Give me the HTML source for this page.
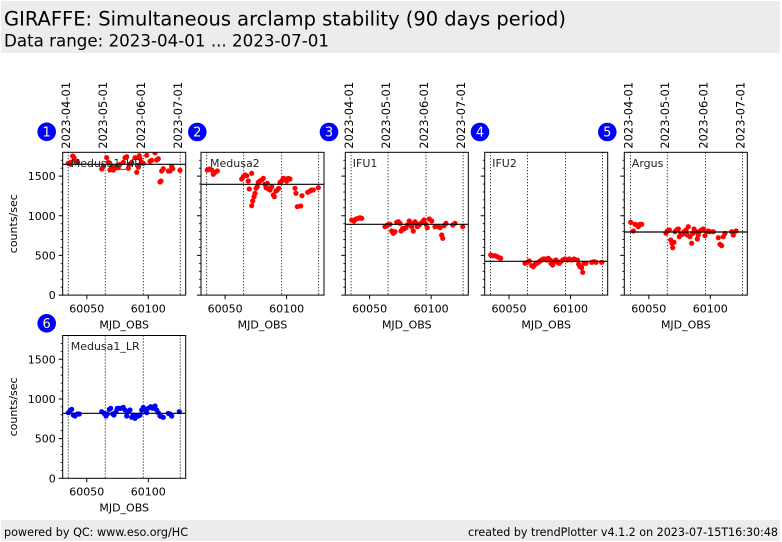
<!DOCTYPE html>
<html>
<head>
<meta charset="utf-8">
<style>
html,body{margin:0;padding:0;background:#fff;}
svg{display:block;}
text{font-family:"DejaVu Sans","Liberation Sans",sans-serif;}
</style>
</head>
<body>
<svg width="782" height="542" viewBox="0 0 782 542" xmlns="http://www.w3.org/2000/svg">
<defs>
<clipPath id="c"><rect x="0" y="0" width="123" height="142.8"/></clipPath>
</defs>
<rect x="0" y="0" width="782" height="542" fill="#fff"/>
<!-- header -->
<rect x="1" y="1" width="779" height="52" fill="#ececec"/>
<text x="4" y="25.5" font-size="19.4" textLength="562" lengthAdjust="spacingAndGlyphs" fill="#000">GIRAFFE: Simultaneous arclamp stability (90 days period)</text>
<text x="4" y="46.5" font-size="16.7" textLength="325" lengthAdjust="spacingAndGlyphs" fill="#000">Data range: 2023-04-01 ... 2023-07-01</text>
<!-- footer -->
<rect x="1" y="520" width="779" height="21" fill="#ececec"/>
<text x="4" y="536" font-size="11.5" textLength="184" lengthAdjust="spacingAndGlyphs" style="font-family:'DejaVu Sans Condensed','DejaVu Sans',sans-serif">powered by QC: www.eso.org/HC</text>
<text x="468" y="536" font-size="11.5" textLength="310" lengthAdjust="spacingAndGlyphs" style="font-family:'DejaVu Sans Condensed','DejaVu Sans',sans-serif">created by trendPlotter v4.1.2 on 2023-07-15T16:30:48</text>

<!-- y labels -->
<text transform="translate(17,223.7) rotate(-90)" font-size="11" text-anchor="middle">counts/sec</text>
<text transform="translate(17,406.9) rotate(-90)" font-size="11" text-anchor="middle">counts/sec</text>

<!-- circles -->
<g font-size="13" text-anchor="middle" fill="#ffffb0">
<circle cx="46.7" cy="131.8" r="9.3" fill="#0000ff"/><text x="46.7" y="136.5">1</text>
<circle cx="197.3" cy="132" r="9.3" fill="#0000ff"/><text x="197.3" y="136.7">2</text>
<circle cx="329" cy="132" r="9.3" fill="#0000ff"/><text x="329" y="136.7">3</text>
<circle cx="480" cy="132" r="9.3" fill="#0000ff"/><text x="480" y="136.7">4</text>
<circle cx="607.3" cy="132" r="9.3" fill="#0000ff"/><text x="607.3" y="136.7">5</text>
<circle cx="46.7" cy="323.3" r="9.3" fill="#0000ff"/><text x="46.7" y="328">6</text>
</g>

<!-- PANEL 1 -->
<g transform="translate(62.7,152.3)">
<g clip-path="url(#c)">
<path d="M5.6,0V142.8M42.6,0V142.8M80.6,0V142.8M117.6,0V142.8" stroke="#000" stroke-width="1" stroke-dasharray="1,2" fill="none"/>
<g fill="#ff0000">
<circle cx="5.6" cy="11" r="2.6"/><circle cx="8" cy="12" r="2.6"/><circle cx="8" cy="10" r="2.6"/><circle cx="10" cy="3.7" r="2.6"/><circle cx="11.3" cy="5.4" r="2.6"/><circle cx="13.3" cy="8.7" r="2.6"/><circle cx="15" cy="10" r="2.6"/><circle cx="39" cy="16.7" r="2.6"/><circle cx="40.6" cy="14.4" r="2.6"/><circle cx="44" cy="5.4" r="2.6"/><circle cx="45.6" cy="10" r="2.6"/><circle cx="47.3" cy="17.7" r="2.6"/><circle cx="49" cy="14.4" r="2.6"/><circle cx="50.6" cy="17.7" r="2.6"/><circle cx="52.3" cy="16" r="2.6"/><circle cx="54" cy="13.4" r="2.6"/><circle cx="55.6" cy="15.4" r="2.6"/><circle cx="57.3" cy="12" r="2.6"/><circle cx="60.6" cy="10" r="2.6"/><circle cx="62.3" cy="5.4" r="2.6"/><circle cx="64" cy="4.4" r="2.6"/><circle cx="65.6" cy="16" r="2.6"/><circle cx="67.3" cy="12" r="2.6"/><circle cx="69" cy="10" r="2.6"/><circle cx="72.3" cy="5.4" r="2.6"/><circle cx="74" cy="20" r="2.6"/><circle cx="75.6" cy="15" r="2.6"/><circle cx="76.6" cy="3.4" r="2.6"/><circle cx="77.3" cy="6" r="2.6"/><circle cx="79" cy="10" r="2.6"/><circle cx="80.6" cy="11" r="2.6"/><circle cx="84" cy="3" r="2.6"/><circle cx="87.3" cy="9" r="2.6"/><circle cx="89" cy="8" r="2.6"/><circle cx="92.3" cy="0.5" r="2.6"/><circle cx="94" cy="7.7" r="2.6"/><circle cx="95.6" cy="6.4" r="2.6"/><circle cx="97.3" cy="29.7" r="2.6"/><circle cx="98.3" cy="28.7" r="2.6"/><circle cx="99" cy="18.7" r="2.6"/><circle cx="100.6" cy="16.4" r="2.6"/><circle cx="105.6" cy="18.7" r="2.6"/><circle cx="107.3" cy="18.7" r="2.6"/><circle cx="109" cy="14.4" r="2.6"/><circle cx="110" cy="16.4" r="2.6"/><circle cx="117.3" cy="18" r="2.6"/>
</g>
<line x1="0" y1="12" x2="123" y2="12" stroke="#000" stroke-width="1.2"/>
</g>
<rect x="0" y="0" width="123" height="142.8" fill="none" stroke="#000" stroke-width="1"/>
<path d="M0,142.8h-4M0,103.13h-4M0,63.47h-4M0,23.8h-4" stroke="#000" stroke-width="1"/>
<path d="M0,134.87h-2M0,126.93h-2M0,119h-2M0,111.07h-2M0,95.2h-2M0,87.27h-2M0,79.33h-2M0,71.4h-2M0,55.53h-2M0,47.6h-2M0,39.67h-2M0,31.73h-2M0,15.87h-2M0,7.93h-2" stroke="#000" stroke-width="0.8"/>
<path d="M24.1,142.8v4M85.6,142.8v4" stroke="#000" stroke-width="1"/>
<g font-size="11" fill="#000">
<text x="-7" y="146.8" text-anchor="end">0</text>
<text x="-7" y="107.1" text-anchor="end">500</text>
<text x="-7" y="67.5" text-anchor="end">1000</text>
<text x="-7" y="27.8" text-anchor="end">1500</text>
<text x="24.1" y="160" text-anchor="middle">60050</text>
<text x="85.6" y="160" text-anchor="middle">60100</text>
<text x="61.5" y="176" text-anchor="middle">MJD_OBS</text>
<text x="8" y="14.5" fill="#222">Medusa1_HR</text>
</g>
<g font-size="11.5" fill="#000">
<text transform="translate(7.4,-3.6) rotate(-90)">2023-04-01</text>
<text transform="translate(44.4,-3.6) rotate(-90)">2023-05-01</text>
<text transform="translate(82.4,-3.6) rotate(-90)">2023-06-01</text>
<text transform="translate(119.4,-3.6) rotate(-90)">2023-07-01</text>
</g>
</g>

<!-- PANEL 2 -->
<g transform="translate(201,152.3)">
<g clip-path="url(#c)">
<path d="M5.6,0V142.8M42.6,0V142.8M80.6,0V142.8M117.6,0V142.8" stroke="#000" stroke-width="1" stroke-dasharray="1,2" fill="none"/>
<g fill="#ff0000">
<circle cx="6.3" cy="17.7" r="2.6"/><circle cx="8.3" cy="16.7" r="2.6"/><circle cx="10.7" cy="17.7" r="2.6"/><circle cx="12.3" cy="22" r="2.6"/><circle cx="14" cy="20" r="2.6"/><circle cx="16.3" cy="18.7" r="2.6"/><circle cx="40.7" cy="26.7" r="2.6"/><circle cx="42.3" cy="24.4" r="2.6"/><circle cx="44" cy="22.7" r="2.6"/><circle cx="45.7" cy="23.4" r="2.6"/><circle cx="47.3" cy="28.7" r="2.6"/><circle cx="48.3" cy="36.7" r="2.6"/><circle cx="50.7" cy="21" r="2.6"/><circle cx="50.7" cy="53.4" r="2.6"/><circle cx="51.7" cy="48.7" r="2.6"/><circle cx="53" cy="44.4" r="2.6"/><circle cx="54" cy="41" r="2.6"/><circle cx="55" cy="36" r="2.6"/><circle cx="56.3" cy="34.4" r="2.6"/><circle cx="57.3" cy="30" r="2.6"/><circle cx="59" cy="28.7" r="2.6"/><circle cx="60.7" cy="27.7" r="2.6"/><circle cx="62.3" cy="26" r="2.6"/><circle cx="64" cy="32" r="2.6"/><circle cx="65" cy="35.4" r="2.6"/><circle cx="66.3" cy="31" r="2.6"/><circle cx="67.3" cy="36.7" r="2.6"/><circle cx="69" cy="37.7" r="2.6"/><circle cx="70.7" cy="34.4" r="2.6"/><circle cx="72.3" cy="42.7" r="2.6"/><circle cx="73.3" cy="44.4" r="2.6"/><circle cx="75" cy="38.7" r="2.6"/><circle cx="76.3" cy="37.7" r="2.6"/><circle cx="77.7" cy="36" r="2.6"/><circle cx="79" cy="30" r="2.6"/><circle cx="80.7" cy="28.7" r="2.6"/><circle cx="82.3" cy="26" r="2.6"/><circle cx="84" cy="26.7" r="2.6"/><circle cx="85.7" cy="28.7" r="2.6"/><circle cx="87.3" cy="26" r="2.6"/><circle cx="89" cy="26.7" r="2.6"/><circle cx="94" cy="36" r="2.6"/><circle cx="95" cy="41" r="2.6"/><circle cx="96.3" cy="54.4" r="2.6"/><circle cx="99.7" cy="53.7" r="2.6"/><circle cx="101" cy="43.4" r="2.6"/><circle cx="106.7" cy="40" r="2.6"/><circle cx="109" cy="38.7" r="2.6"/><circle cx="110.7" cy="37.7" r="2.6"/><circle cx="112.3" cy="37.7" r="2.6"/><circle cx="117.3" cy="35.4" r="2.6"/>
</g>
<line x1="0" y1="32" x2="123" y2="32" stroke="#000" stroke-width="1.2"/>
</g>
<rect x="0" y="0" width="123" height="142.8" fill="none" stroke="#000" stroke-width="1"/>
<path d="M0,142.8h-4M0,103.13h-4M0,63.47h-4M0,23.8h-4" stroke="#000" stroke-width="1"/>
<path d="M0,134.87h-2M0,126.93h-2M0,119h-2M0,111.07h-2M0,95.2h-2M0,87.27h-2M0,79.33h-2M0,71.4h-2M0,55.53h-2M0,47.6h-2M0,39.67h-2M0,31.73h-2M0,15.87h-2M0,7.93h-2" stroke="#000" stroke-width="0.8"/>
<path d="M24.1,142.8v4M85.6,142.8v4" stroke="#000" stroke-width="1"/>
<g font-size="11" fill="#000">
<text x="24.1" y="160" text-anchor="middle">60050</text>
<text x="85.6" y="160" text-anchor="middle">60100</text>
<text x="61.5" y="176" text-anchor="middle">MJD_OBS</text>
<text x="9" y="14.5" fill="#222">Medusa2</text>
</g>
</g>

<!-- PANEL 3 -->
<g transform="translate(345.3,152.3)">
<g clip-path="url(#c)">
<path d="M5.8,0V142.8M42.8,0V142.8M80.8,0V142.8M117.8,0V142.8" stroke="#000" stroke-width="1" stroke-dasharray="1,2" fill="none"/>
<g fill="#ff0000">
<circle cx="6.4" cy="67.7" r="2.6"/><circle cx="8.7" cy="68.7" r="2.6"/><circle cx="10.7" cy="66.7" r="2.6"/><circle cx="13" cy="66" r="2.6"/><circle cx="14.7" cy="65.4" r="2.6"/><circle cx="16.4" cy="66" r="2.6"/><circle cx="39.7" cy="74.4" r="2.6"/><circle cx="42" cy="72.7" r="2.6"/><circle cx="44.7" cy="72" r="2.6"/><circle cx="46.4" cy="78.7" r="2.6"/><circle cx="48" cy="81" r="2.6"/><circle cx="49.7" cy="79.4" r="2.6"/><circle cx="51.4" cy="70" r="2.6"/><circle cx="53" cy="69.4" r="2.6"/><circle cx="54.7" cy="71" r="2.6"/><circle cx="55.7" cy="78.7" r="2.6"/><circle cx="57.4" cy="76" r="2.6"/><circle cx="58.7" cy="76.7" r="2.6"/><circle cx="60.7" cy="75.4" r="2.6"/><circle cx="62" cy="72.7" r="2.6"/><circle cx="64" cy="68.7" r="2.6"/><circle cx="65.4" cy="71" r="2.6"/><circle cx="66.4" cy="74.4" r="2.6"/><circle cx="68" cy="78.7" r="2.6"/><circle cx="69.7" cy="69.4" r="2.6"/><circle cx="70.7" cy="71" r="2.6"/><circle cx="72" cy="74.4" r="2.6"/><circle cx="74" cy="72.7" r="2.6"/><circle cx="75.4" cy="71" r="2.6"/><circle cx="77.4" cy="69.4" r="2.6"/><circle cx="78.7" cy="67.7" r="2.6"/><circle cx="80.7" cy="72" r="2.6"/><circle cx="82" cy="75.4" r="2.6"/><circle cx="84" cy="66.7" r="2.6"/><circle cx="86.4" cy="68.7" r="2.6"/><circle cx="89.7" cy="74.4" r="2.6"/><circle cx="93" cy="74.4" r="2.6"/><circle cx="94.7" cy="75.4" r="2.6"/><circle cx="96.4" cy="82.7" r="2.6"/><circle cx="97.4" cy="86" r="2.6"/><circle cx="98.7" cy="73.4" r="2.6"/><circle cx="100.7" cy="71" r="2.6"/><circle cx="107.4" cy="72.7" r="2.6"/><circle cx="109.7" cy="71" r="2.6"/><circle cx="117.4" cy="74.4" r="2.6"/>
</g>
<line x1="0" y1="72" x2="123" y2="72" stroke="#000" stroke-width="1.2"/>
</g>
<rect x="0" y="0" width="123" height="142.8" fill="none" stroke="#000" stroke-width="1"/>
<path d="M0,142.8h-4M0,103.13h-4M0,63.47h-4M0,23.8h-4" stroke="#000" stroke-width="1"/>
<path d="M0,134.87h-2M0,126.93h-2M0,119h-2M0,111.07h-2M0,95.2h-2M0,87.27h-2M0,79.33h-2M0,71.4h-2M0,55.53h-2M0,47.6h-2M0,39.67h-2M0,31.73h-2M0,15.87h-2M0,7.93h-2" stroke="#000" stroke-width="0.8"/>
<path d="M24.3,142.8v4M85.8,142.8v4" stroke="#000" stroke-width="1"/>
<g font-size="11" fill="#000">
<text x="24.3" y="160" text-anchor="middle">60050</text>
<text x="85.8" y="160" text-anchor="middle">60100</text>
<text x="61.5" y="176" text-anchor="middle">MJD_OBS</text>
<text x="7.5" y="14.5" fill="#222">IFU1</text>
</g>
<g font-size="11.5" fill="#000">
<text transform="translate(7.6,-3.6) rotate(-90)">2023-04-01</text>
<text transform="translate(44.6,-3.6) rotate(-90)">2023-05-01</text>
<text transform="translate(82.6,-3.6) rotate(-90)">2023-06-01</text>
<text transform="translate(119.6,-3.6) rotate(-90)">2023-07-01</text>
</g>
</g>

<!-- PANEL 4 -->
<g transform="translate(484.7,152.3)">
<g clip-path="url(#c)">
<path d="M5.8,0V142.8M42.8,0V142.8M80.8,0V142.8M117.8,0V142.8" stroke="#000" stroke-width="1" stroke-dasharray="1,2" fill="none"/>
<g fill="#ff0000">
<circle cx="6" cy="102.7" r="2.6"/><circle cx="8" cy="103.4" r="2.6"/><circle cx="10.3" cy="103.4" r="2.6"/><circle cx="12.6" cy="104.4" r="2.6"/><circle cx="14.6" cy="105.4" r="2.6"/><circle cx="16" cy="106" r="2.6"/><circle cx="40.3" cy="111" r="2.6"/><circle cx="42.6" cy="110" r="2.6"/><circle cx="44.6" cy="108.7" r="2.6"/><circle cx="47" cy="113.4" r="2.6"/><circle cx="48.6" cy="114.4" r="2.6"/><circle cx="50.3" cy="112" r="2.6"/><circle cx="52" cy="111" r="2.6"/><circle cx="53.6" cy="110" r="2.6"/><circle cx="55.3" cy="108.7" r="2.6"/><circle cx="57" cy="107.7" r="2.6"/><circle cx="58.6" cy="106.7" r="2.6"/><circle cx="60.3" cy="106.7" r="2.6"/><circle cx="62" cy="107.7" r="2.6"/><circle cx="63.6" cy="106" r="2.6"/><circle cx="65.3" cy="107.7" r="2.6"/><circle cx="66.3" cy="111" r="2.6"/><circle cx="68" cy="112.7" r="2.6"/><circle cx="69.3" cy="108.7" r="2.6"/><circle cx="71.3" cy="107.7" r="2.6"/><circle cx="72.6" cy="110" r="2.6"/><circle cx="74.6" cy="111" r="2.6"/><circle cx="76" cy="109.4" r="2.6"/><circle cx="78" cy="107.7" r="2.6"/><circle cx="80.3" cy="106.7" r="2.6"/><circle cx="82.6" cy="107.7" r="2.6"/><circle cx="84.6" cy="106.7" r="2.6"/><circle cx="87" cy="107.7" r="2.6"/><circle cx="89.3" cy="106.7" r="2.6"/><circle cx="92.6" cy="107.7" r="2.6"/><circle cx="94" cy="112" r="2.6"/><circle cx="95.3" cy="114.4" r="2.6"/><circle cx="97" cy="115.4" r="2.6"/><circle cx="98" cy="120" r="2.6"/><circle cx="99.3" cy="111" r="2.6"/><circle cx="101.3" cy="111" r="2.6"/><circle cx="107" cy="110" r="2.6"/><circle cx="109.3" cy="109.4" r="2.6"/><circle cx="111.3" cy="110" r="2.6"/><circle cx="117" cy="110" r="2.6"/>
</g>
<line x1="0" y1="109" x2="123" y2="109" stroke="#000" stroke-width="1.2"/>
</g>
<rect x="0" y="0" width="123" height="142.8" fill="none" stroke="#000" stroke-width="1"/>
<path d="M0,142.8h-4M0,103.13h-4M0,63.47h-4M0,23.8h-4" stroke="#000" stroke-width="1"/>
<path d="M0,134.87h-2M0,126.93h-2M0,119h-2M0,111.07h-2M0,95.2h-2M0,87.27h-2M0,79.33h-2M0,71.4h-2M0,55.53h-2M0,47.6h-2M0,39.67h-2M0,31.73h-2M0,15.87h-2M0,7.93h-2" stroke="#000" stroke-width="0.8"/>
<path d="M24.3,142.8v4M85.8,142.8v4" stroke="#000" stroke-width="1"/>
<g font-size="11" fill="#000">
<text x="24.3" y="160" text-anchor="middle">60050</text>
<text x="85.8" y="160" text-anchor="middle">60100</text>
<text x="61.5" y="176" text-anchor="middle">MJD_OBS</text>
<text x="7.5" y="14.5" fill="#222">IFU2</text>
</g>
</g>

<!-- PANEL 5 -->
<g transform="translate(624.3,152.3)">
<g clip-path="url(#c)">
<path d="M6.2,0V142.8M43,0V142.8M81.2,0V142.8M118.2,0V142.8" stroke="#000" stroke-width="1" stroke-dasharray="1,2" fill="none"/>
<g fill="#ff0000">
<circle cx="6.4" cy="70" r="2.6"/><circle cx="9" cy="78.7" r="2.6"/><circle cx="10.7" cy="72" r="2.6"/><circle cx="12.4" cy="72.7" r="2.6"/><circle cx="14" cy="74.4" r="2.6"/><circle cx="15.7" cy="72" r="2.6"/><circle cx="17.4" cy="72" r="2.6"/><circle cx="41.7" cy="81" r="2.6"/><circle cx="43" cy="78.7" r="2.6"/><circle cx="45" cy="77.7" r="2.6"/><circle cx="46.4" cy="87.7" r="2.6"/><circle cx="47.7" cy="91" r="2.6"/><circle cx="48.4" cy="95.4" r="2.6"/><circle cx="49.7" cy="90" r="2.6"/><circle cx="50.7" cy="79.4" r="2.6"/><circle cx="52.4" cy="77.7" r="2.6"/><circle cx="54" cy="76.7" r="2.6"/><circle cx="55" cy="84.4" r="2.6"/><circle cx="56.4" cy="82" r="2.6"/><circle cx="58.4" cy="82" r="2.6"/><circle cx="59.7" cy="79.4" r="2.6"/><circle cx="61.7" cy="77.7" r="2.6"/><circle cx="63" cy="82.7" r="2.6"/><circle cx="64" cy="74.4" r="2.6"/><circle cx="65.7" cy="84.4" r="2.6"/><circle cx="67.4" cy="91" r="2.6"/><circle cx="68.4" cy="81" r="2.6"/><circle cx="69.7" cy="76.7" r="2.6"/><circle cx="71.7" cy="79.4" r="2.6"/><circle cx="73" cy="86.7" r="2.6"/><circle cx="74" cy="82.7" r="2.6"/><circle cx="75.7" cy="78.7" r="2.6"/><circle cx="77.4" cy="77.7" r="2.6"/><circle cx="79" cy="76.7" r="2.6"/><circle cx="80.7" cy="83.4" r="2.6"/><circle cx="82.4" cy="79.4" r="2.6"/><circle cx="84" cy="78.7" r="2.6"/><circle cx="85.7" cy="79.4" r="2.6"/><circle cx="89" cy="79.4" r="2.6"/><circle cx="94" cy="85.4" r="2.6"/><circle cx="95.7" cy="92" r="2.6"/><circle cx="97.4" cy="93.4" r="2.6"/><circle cx="99" cy="84.4" r="2.6"/><circle cx="100.7" cy="81" r="2.6"/><circle cx="107.4" cy="79.4" r="2.6"/><circle cx="109" cy="82.7" r="2.6"/><circle cx="111.7" cy="78.7" r="2.6"/>
</g>
<line x1="0" y1="79.7" x2="123" y2="79.7" stroke="#000" stroke-width="1.2"/>
</g>
<rect x="0" y="0" width="123" height="142.8" fill="none" stroke="#000" stroke-width="1"/>
<path d="M0,142.8h-4M0,103.13h-4M0,63.47h-4M0,23.8h-4" stroke="#000" stroke-width="1"/>
<path d="M0,134.87h-2M0,126.93h-2M0,119h-2M0,111.07h-2M0,95.2h-2M0,87.27h-2M0,79.33h-2M0,71.4h-2M0,55.53h-2M0,47.6h-2M0,39.67h-2M0,31.73h-2M0,15.87h-2M0,7.93h-2" stroke="#000" stroke-width="0.8"/>
<path d="M24.5,142.8v4M86,142.8v4" stroke="#000" stroke-width="1"/>
<g font-size="11" fill="#000">
<text x="24.5" y="160" text-anchor="middle">60050</text>
<text x="86" y="160" text-anchor="middle">60100</text>
<text x="61.5" y="176" text-anchor="middle">MJD_OBS</text>
<text x="7.5" y="14.5" fill="#222">Argus</text>
</g>
<g font-size="11.5" fill="#000">
<text transform="translate(8,-3.6) rotate(-90)">2023-04-01</text>
<text transform="translate(44.8,-3.6) rotate(-90)">2023-05-01</text>
<text transform="translate(83,-3.6) rotate(-90)">2023-06-01</text>
<text transform="translate(120,-3.6) rotate(-90)">2023-07-01</text>
</g>
</g>

<!-- PANEL 6 -->
<g transform="translate(62.7,335.5)">
<g clip-path="url(#c)">
<path d="M5.6,0V142.8M42.6,0V142.8M80.6,0V142.8M117.6,0V142.8" stroke="#000" stroke-width="1" stroke-dasharray="1,2" fill="none"/>
<g fill="#0000ff">
<circle cx="5.6" cy="77.2" r="2.6"/><circle cx="7.3" cy="75.2" r="2.6"/><circle cx="9" cy="73.8" r="2.6"/><circle cx="10.6" cy="79.5" r="2.6"/><circle cx="12.3" cy="80.5" r="2.6"/><circle cx="14.6" cy="78.5" r="2.6"/><circle cx="16.6" cy="78.5" r="2.6"/><circle cx="39" cy="76.2" r="2.6"/><circle cx="41.3" cy="77.8" r="2.6"/><circle cx="43.3" cy="80.5" r="2.6"/><circle cx="44.6" cy="78.5" r="2.6"/><circle cx="46.6" cy="73.8" r="2.6"/><circle cx="48" cy="72.8" r="2.6"/><circle cx="50" cy="78.5" r="2.6"/><circle cx="51.3" cy="79.5" r="2.6"/><circle cx="53.3" cy="76.2" r="2.6"/><circle cx="54.6" cy="72.8" r="2.6"/><circle cx="56.6" cy="72.8" r="2.6"/><circle cx="58" cy="72.8" r="2.6"/><circle cx="60.6" cy="71.8" r="2.6"/><circle cx="62.3" cy="74.5" r="2.6"/><circle cx="64" cy="80.5" r="2.6"/><circle cx="65.6" cy="76.2" r="2.6"/><circle cx="67.3" cy="74.5" r="2.6"/><circle cx="69" cy="81.8" r="2.6"/><circle cx="70.6" cy="79.5" r="2.6"/><circle cx="72.3" cy="82.8" r="2.6"/><circle cx="74" cy="80.5" r="2.6"/><circle cx="75.6" cy="80.5" r="2.6"/><circle cx="77.3" cy="79.5" r="2.6"/><circle cx="79" cy="74.5" r="2.6"/><circle cx="80.6" cy="71.8" r="2.6"/><circle cx="82.3" cy="74.5" r="2.6"/><circle cx="84" cy="77.2" r="2.6"/><circle cx="85.6" cy="72.8" r="2.6"/><circle cx="88" cy="71.2" r="2.6"/><circle cx="90" cy="72.8" r="2.6"/><circle cx="92.3" cy="70.5" r="2.6"/><circle cx="94" cy="74.5" r="2.6"/><circle cx="95.6" cy="77.2" r="2.6"/><circle cx="97.3" cy="80.5" r="2.6"/><circle cx="99" cy="81.2" r="2.6"/><circle cx="100.6" cy="81.8" r="2.6"/><circle cx="105.6" cy="77.8" r="2.6"/><circle cx="107.3" cy="78.5" r="2.6"/><circle cx="109" cy="80.5" r="2.6"/><circle cx="116.6" cy="76.2" r="2.6"/>
</g>
<line x1="0" y1="77.8" x2="123" y2="77.8" stroke="#000" stroke-width="1.2"/>
</g>
<rect x="0" y="0" width="123" height="142.8" fill="none" stroke="#000" stroke-width="1"/>
<path d="M0,142.8h-4M0,103.13h-4M0,63.47h-4M0,23.8h-4" stroke="#000" stroke-width="1"/>
<path d="M0,134.87h-2M0,126.93h-2M0,119h-2M0,111.07h-2M0,95.2h-2M0,87.27h-2M0,79.33h-2M0,71.4h-2M0,55.53h-2M0,47.6h-2M0,39.67h-2M0,31.73h-2M0,15.87h-2M0,7.93h-2" stroke="#000" stroke-width="0.8"/>
<path d="M24.1,142.8v4M85.6,142.8v4" stroke="#000" stroke-width="1"/>
<g font-size="11" fill="#000">
<text x="-7" y="146.8" text-anchor="end">0</text>
<text x="-7" y="107.1" text-anchor="end">500</text>
<text x="-7" y="67.5" text-anchor="end">1000</text>
<text x="-7" y="27.8" text-anchor="end">1500</text>
<text x="24.1" y="160" text-anchor="middle">60050</text>
<text x="85.6" y="160" text-anchor="middle">60100</text>
<text x="61.5" y="176" text-anchor="middle">MJD_OBS</text>
<text x="8" y="14.5" fill="#222">Medusa1_LR</text>
</g>
</g>
</svg>
</body>
</html>
